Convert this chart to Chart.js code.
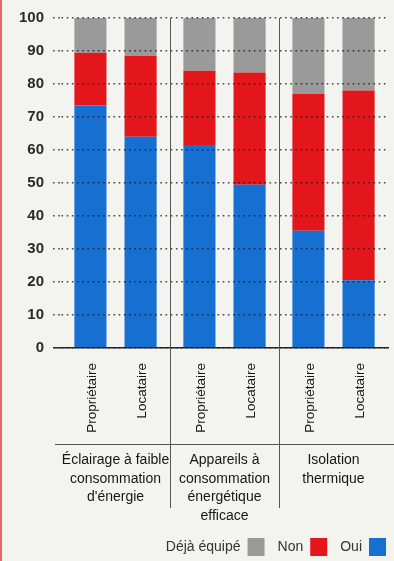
<!DOCTYPE html>
<html lang="fr">
<head>
<meta charset="utf-8">
<title>Équipement des logements</title>
<script src="https://cdn.jsdelivr.net/npm/chart.js@4.4.1/dist/chart.umd.min.js"></script>
<style>
  html, body { margin: 0; padding: 0; background: #f3f3f0; }
  #wrap { width: 394px; height: 561px; }
</style>
</head>
<body>
<div id="wrap"><canvas id="chart" width="394" height="561"></canvas></div>
<script>
'use strict';

// categories (one stack per tenure inside each group)
const groups = [
  ['Éclairage à faible', 'consommation', "d'énergie"],
  ['Appareils à', 'consommation', 'énergétique', 'efficace'],
  ['Isolation', 'thermique']
];
const tenure = ['Propriétaire', 'Locataire'];

// % per bar, order: group1 P, group1 L, group2 P, group2 L, group3 P, group3 L
const oui  = [73.5, 64, 61.5, 49.5, 35.5, 20.5];
const non  = [16, 24.5, 22.5, 34, 41.5, 57.5];
const deja = [10.5, 11.5, 16, 16.5, 23, 22];

const yTicks = { min: 0, max: 100, step: 10 };

const FONT = "'Liberation Sans', Arial, sans-serif";
const INK = '#161616';
const DOTS = [1.6, 3.6];

const series = [
  { label: 'Oui', values: oui, color: '#1570d2' },
  { label: 'Non', values: non, color: '#e3161b' },
  { label: 'Déjà équipé', values: deja, color: '#9a9a9a' }
];

const datasets = [];
tenure.forEach((t, ti) => {
  series.forEach(s => {
    datasets.push({
      label: s.label,
      stack: t,
      data: groups.map((g, gi) => s.values[gi * 2 + ti]),
      backgroundColor: s.color,
      borderWidth: 0,
      categoryPercentage: 0.92,
      barPercentage: 0.64
    });
  });
});

// page background
const paper = {
  id: 'paper',
  beforeDraw(chart) {
    const { ctx, width, height } = chart;
    ctx.save();
    ctx.fillStyle = '#f3f3f0';
    ctx.fillRect(0, 0, width, height);
    ctx.restore();
  }
};

// rotated tenure labels under each bar, group separators, rule under labels
const axisDecor = {
  id: 'axisDecor',
  afterDraw(chart) {
    const { ctx, chartArea } = chart;
    const x = chart.scales.x;
    const base = chartArea.bottom;
    ctx.save();

    ctx.fillStyle = INK;
    ctx.font = '13.5px ' + FONT;
    ctx.textAlign = 'right';
    ctx.textBaseline = 'middle';
    tenure.forEach((t, ti) => {
      chart.getDatasetMeta(ti * series.length).data.forEach(bar => {
        ctx.save();
        ctx.translate(bar.x + 2, base + 15);
        ctx.rotate(-Math.PI / 2);
        ctx.fillText(t, 0, 0);
        ctx.restore();
      });
    });

    ctx.strokeStyle = '#555';
    ctx.lineWidth = 1;
    ctx.beginPath();
    for (let i = 0; i < groups.length - 1; i++) {
      const sx = Math.round((x.getPixelForValue(i) + x.getPixelForValue(i + 1)) / 2) + 0.5;
      ctx.moveTo(sx, chartArea.top);
      ctx.lineTo(sx, base + 160);
    }
    ctx.moveTo(chartArea.left - 6, base + 96.5);
    ctx.lineTo(chart.width, base + 96.5);
    ctx.stroke();

    // thin red edge of the page
    ctx.fillStyle = '#e36a6a';
    ctx.fillRect(0, 0, 2, chart.height);
    ctx.restore();
  }
};

new Chart(document.getElementById('chart'), {
  type: 'bar',
  data: { labels: groups, datasets },
  options: {
    responsive: false,
    animation: false,
    layout: { padding: { top: 14, right: -5, left: 0, bottom: -5 } },
    scales: {
      x: {
        stacked: true,
        grid: { display: false },
        border: { display: true, color: '#222', width: 1.5, z: 2 },
        ticks: {
          padding: 95,
          maxRotation: 0,
          autoSkip: false,
          color: INK,
          font: { family: FONT, size: 14, lineHeight: 1.32 }
        },
        afterFit: s => {
          s.height = 177;
          s.paddingLeft = 0;
          s.paddingRight = 6;
        }
      },
      y: {
        stacked: true,
        min: yTicks.min,
        max: yTicks.max,
        afterFit: s => { s.width = 61; },
        grid: {
          z: 1,
          color: 'rgba(25,25,25,0.8)',
          lineWidth: 1.6,
          tickLength: 8,
          tickColor: c => c.tick && c.tick.value === 0 ? '#222' : 'rgba(25,25,25,0.8)',
          tickWidth: c => c.tick && c.tick.value === 0 ? 1.5 : 1.6,
          tickBorderDash: c => c.tick && c.tick.value === 0 ? [] : DOTS
        },
        border: { display: true, color: '#222', width: 1.5, dash: DOTS },
        ticks: {
          stepSize: yTicks.step,
          padding: 9,
          color: '#2a2a2a',
          font: { family: FONT, size: 15, weight: 'bold' }
        }
      }
    },
    plugins: {
      legend: {
        position: 'bottom',
        align: 'start',
        rtl: true,
        labels: {
          boxWidth: 17,
          boxHeight: 18,
          padding: 13,
          color: '#333',
          font: { family: FONT, size: 14 },
          filter: item => item.datasetIndex < series.length
        }
      },
      tooltip: { enabled: false }
    }
  },
  plugins: [paper, axisDecor]
});
</script>
</body>
</html>
